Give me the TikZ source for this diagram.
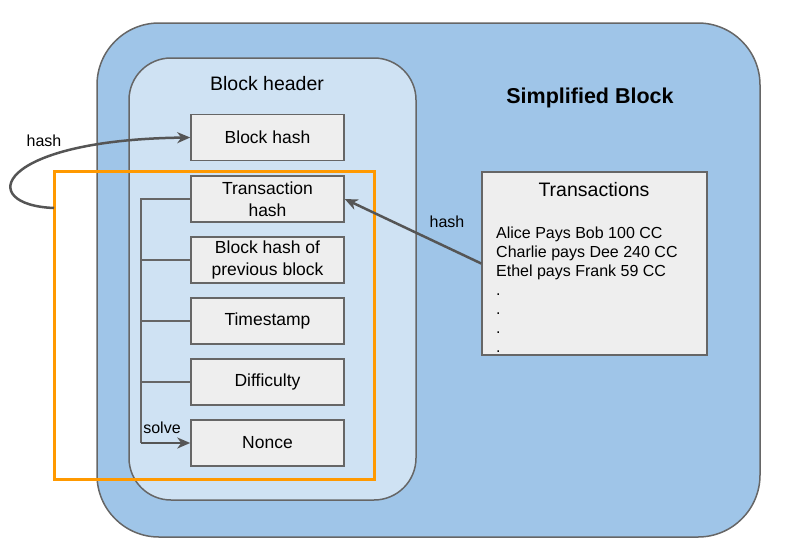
\documentclass[tikz,border=0pt]{standalone}
\usepackage{fontspec}
\setmainfont{Liberation Sans}
\usetikzlibrary{arrows.meta}
\definecolor{block-blue}{RGB}{159, 197, 232}
\definecolor{header-blue}{RGB}{207, 226, 243}
\definecolor{field-gray}{RGB}{238, 238, 238}
\definecolor{edge-gray}{RGB}{102, 102, 102}
\definecolor{arrow-gray}{RGB}{85, 85, 85}
\definecolor{solve-orange}{RGB}{255, 153, 0}
\tikzset{
  field/.style={draw=edge-gray, fill=field-gray, line width=1.5pt, minimum width=153pt, minimum height=46pt, inner sep=0pt, align=center, font=\fontsize{17.5}{22}\selectfont},
  hasharrow/.style={draw=arrow-gray, line width=2.5pt, -{Stealth[length=13pt, width=11pt, inset=4pt]}},
  bracket/.style={draw=edge-gray, line width=1.5pt},
  smalltext/.style={font=\fontsize{16}{19}\selectfont}
}

\begin{document}
\begin{tikzpicture}[x=1pt, y=-1pt]
\useasboundingbox (0,0) rectangle (790,557);
\filldraw[fill=block-blue, draw=edge-gray, line width=1.5pt, rounded corners=62pt] (97,23) rectangle (760,537);
\filldraw[fill=header-blue, draw=edge-gray, line width=1.5pt, rounded corners=42pt] (129,58) rectangle (416,500);
\draw[solve-orange, line width=3pt] (54,171) rectangle (374,479);

\node[font=\fontsize{21.5}{24}\selectfont\bfseries] (title) at (590,98) {Simplified Block};
\node[font=\fontsize{19.5}{22}\selectfont] (header) at (267,84) {Block header};

\node[field] (bh) at (267.5,137.5) {Block hash};
\node[field] (th) at (267.5,199) {Transaction\\hash};
\node[field] (prev) at (267.5,260) {Block hash of\\previous block};
\node[field] (stamp) at (267.5,321) {Timestamp};
\node[field] (diff) at (267.5,382) {Difficulty};
\node[field] (nonce) at (267.5,443) {Nonce};

\node[draw=edge-gray, fill=field-gray, line width=1.5pt, minimum width=225pt, minimum height=183pt] (txs) at (594.5,263.5) {};
\node[font=\fontsize{19.5}{22}\selectfont] (txtitle) at (594,190) {Transactions};
\node[smalltext, anchor=north west, inner sep=0pt, align=left] (txlist) at (496,227) {Alice Pays Bob 100 CC\\Charlie pays Dee 240 CC\\Ethel pays Frank 59 CC\\.\\.\\.\\.};

% hash of the transactions
\draw[hasharrow] (txs.west) -- (th.east);
\node[smalltext] (txhash) at (447,222) {hash};

% hash of the header
\coordinate (loopstart) at (54,208);
\draw[hasharrow] (loopstart) .. controls (-25,205) and (-5,140) .. (bh.west);
\node[smalltext] (bhhash) at (44,141) {hash};

% solve
\coordinate (spine) at (141,199);
\coordinate (spineend) at (141,443);
\draw[bracket] (th.west) -- (spine) -- (spineend);
\draw[bracket] (prev.west) -- (prev.west -| spine);
\draw[bracket] (stamp.west) -- (stamp.west -| spine);
\draw[bracket] (diff.west) -- (diff.west -| spine);
\draw[hasharrow] (spineend) -- (nonce.west);
\node[smalltext] (solve) at (162,428) {solve};
\end{tikzpicture}
\end{document}
